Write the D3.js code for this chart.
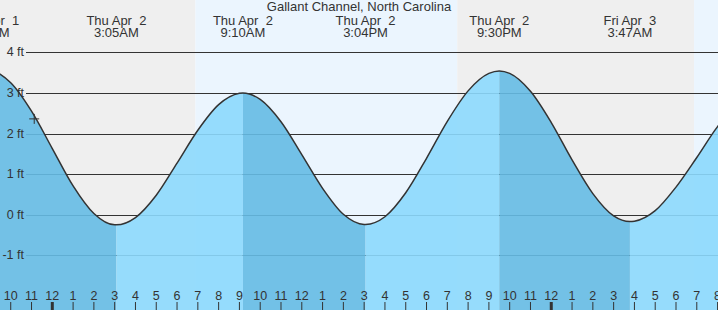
<!DOCTYPE html>
<html>
<head>
<meta charset="utf-8">
<script src="https://cdn.jsdelivr.net/npm/d3@7"></script>
<style>
  body { margin: 0; background: #fff; }
  svg { display: block; font-family: "Liberation Sans", Arial, sans-serif; }
  text { fill: #333; white-space: pre; }
</style>
</head>
<body>
<div id="chart"></div>
<script>
// hours are counted from Thu Apr 2 2026, 00:00
const title = "Gallant Channel, North Carolina";

// hourly predictions, starting at 9PM Wed Apr 1 (hour -3)
const hourlyStart = -3;
const hourlyFeet = [
  3.55, 3.25, 2.55, 1.63, 0.71, 0.03, -0.25,
  -0.07, 0.48, 1.27, 2.08, 2.71, 2.99,
  2.84, 2.29, 1.48, 0.65, 0.01, -0.24,
  -0.05, 0.54, 1.39, 2.30, 3.05, 3.48,
  3.48, 3.04, 2.27, 1.35, 0.52, -0.03,
  -0.16, 0.10, 0.68, 1.41, 2.17, 2.73
];

// high / low tides
const extremeHours = [-3.13, 3.083, 9.167, 15.067, 21.5, 27.783];
const extremeFeet = [3.55, -0.25, 3.0, -0.24, 3.54, -0.17];
const extremeDays = ["Wed Apr  1", "Thu Apr  2", "Thu Apr  2", "Thu Apr  2", "Thu Apr  2", "Fri Apr  3"];
const extremeTimes = ["8:52PM", "3:05AM", "9:10AM", "3:04PM", "9:30PM", "3:47AM"];

// sunrise / sunset
const sunriseHours = [6.88, 30.87];
const sunsetHours = [19.48];

const nowHour = -0.87;
const nowFeet = 2.36;

const yTicks = [-1, 0, 1, 2, 3, 4];

const width = 718, height = 310;
const base = new Date(2026, 3, 2, 0, 0);
const toDate = h => new Date(base.getTime() + h * 3600e3);

const x = d3.scaleTime()
  .domain([toDate(-2.516), toDate(32.02)])
  .range([0, width]);
const y = d3.scaleLinear().domain([-1, 4]).range([255.3, 52.3]);

const svg = d3.select("#chart").append("svg")
  .attr("width", width)
  .attr("height", height);

// day / night background
const dayColor = "#ebf5fe", nightColor = "#efefef";
const bands = [];
let start = -2.516, isDay = false;
const changes = sunriseHours.map(h => ({ h, day: true }))
  .concat(sunsetHours.map(h => ({ h, day: false })))
  .sort((a, b) => a.h - b.h);
changes.forEach(c => {
  bands.push({ a: start, b: c.h, day: isDay });
  start = c.h; isDay = c.day;
});
bands.push({ a: start, b: 32.02, day: isDay });

svg.append("g").selectAll("rect")
  .data(bands)
  .enter().append("rect")
  .attr("x", d => x(toDate(d.a)))
  .attr("y", 0)
  .attr("width", d => x(toDate(d.b)) - x(toDate(d.a)))
  .attr("height", height)
  .attr("fill", d => d.day ? dayColor : nightColor);

// grid lines
svg.append("g").selectAll("line")
  .data(yTicks)
  .enter().append("line")
  .attr("x1", 26).attr("x2", width)
  .attr("y1", d => Math.round(y(d)) + 0.5)
  .attr("y2", d => Math.round(y(d)) + 0.5)
  .attr("stroke", "#333")
  .attr("stroke-width", 1);

// tide points
const points = hourlyFeet.map((v, i) => ({ h: hourlyStart + i, v }))
  .concat(extremeHours.map((h, i) => ({ h, v: extremeFeet[i] })))
  .sort((a, b) => a.h - b.h);

const area = d3.area()
  .x(d => x(toDate(d.h)))
  .y0(height)
  .y1(d => y(d.v))
  .curve(d3.curveMonotoneX);
const line = d3.line()
  .x(d => x(toDate(d.h)))
  .y(d => y(d.v))
  .curve(d3.curveMonotoneX);

// falling / rising segments
const edges = [-4].concat(extremeHours, [40]);
const segs = [];
for (let i = 0; i < edges.length - 1; i++) {
  // after a high the tide falls
  const prevIdx = i - 1;
  const falling = prevIdx < 0 ? extremeFeet[0] < extremeFeet[1] : extremeFeet[prevIdx] > 1;
  segs.push({ a: edges[i], b: edges[i + 1], falling, id: "seg" + i });
}

const defs = svg.append("defs");
defs.selectAll("clipPath")
  .data(segs)
  .enter().append("clipPath")
  .attr("id", d => d.id)
  .append("rect")
  .attr("x", d => x(toDate(d.a)))
  .attr("y", 0)
  .attr("width", d => x(toDate(d.b)) - x(toDate(d.a)))
  .attr("height", height);

svg.append("g").selectAll("path")
  .data(segs)
  .enter().append("path")
  .attr("clip-path", d => `url(#${d.id})`)
  .attr("d", area(points))
  .attr("fill", d => d.falling ? "#65bbe4" : "#8cd9fd")
  .attr("fill-opacity", 0.9);

svg.append("path")
  .attr("d", line(points))
  .attr("fill", "none")
  .attr("stroke", "#333")
  .attr("stroke-width", 1.5);

// current time marker
const nx = x(toDate(nowHour)), ny = y(nowFeet);
svg.append("path")
  .attr("d", `M${nx - 5},${ny}H${nx + 5}M${nx},${ny - 5}V${ny + 5}`)
  .attr("stroke", "#333")
  .attr("stroke-width", 1);

// y labels
svg.append("g").selectAll("text")
  .data(yTicks)
  .enter().append("text")
  .attr("x", 24)
  .attr("y", d => y(d) + 4)
  .attr("text-anchor", "end")
  .attr("font-size", 12.5)
  .text(d => d + " ft");

// hour ticks
const hours = d3.timeHour.range(x.domain()[0], x.domain()[1]);
const fmt = d3.timeFormat("%-I");
const tk = svg.append("g");
tk.selectAll("line")
  .data(hours)
  .enter().append("line")
  .attr("x1", d => x(d)).attr("x2", d => x(d))
  .attr("y1", 302).attr("y2", height)
  .attr("stroke", "#333")
  .attr("stroke-width", d => d.getHours() === 0 ? 3 : 1);
tk.selectAll("text")
  .data(hours)
  .enter().append("text")
  .attr("x", d => x(d))
  .attr("y", 300)
  .attr("text-anchor", "middle")
  .attr("font-size", 12.5)
  .text(d => fmt(d));

// header labels
const hdr = svg.append("g").selectAll("g")
  .data(extremeHours)
  .enter().append("g")
  .attr("transform", d => `translate(${x(toDate(d))},0)`);
hdr.append("text")
  .attr("y", 24.5)
  .attr("text-anchor", "middle")
  .attr("font-size", 13)
  .text((d, i) => extremeDays[i]);
hdr.append("text")
  .attr("y", 36.5)
  .attr("text-anchor", "middle")
  .attr("font-size", 13)
  .text((d, i) => extremeTimes[i]);

svg.append("text")
  .attr("x", 359)
  .attr("y", 11)
  .attr("text-anchor", "middle")
  .attr("font-size", 13)
  .text(title);
</script>
</body>
</html>
